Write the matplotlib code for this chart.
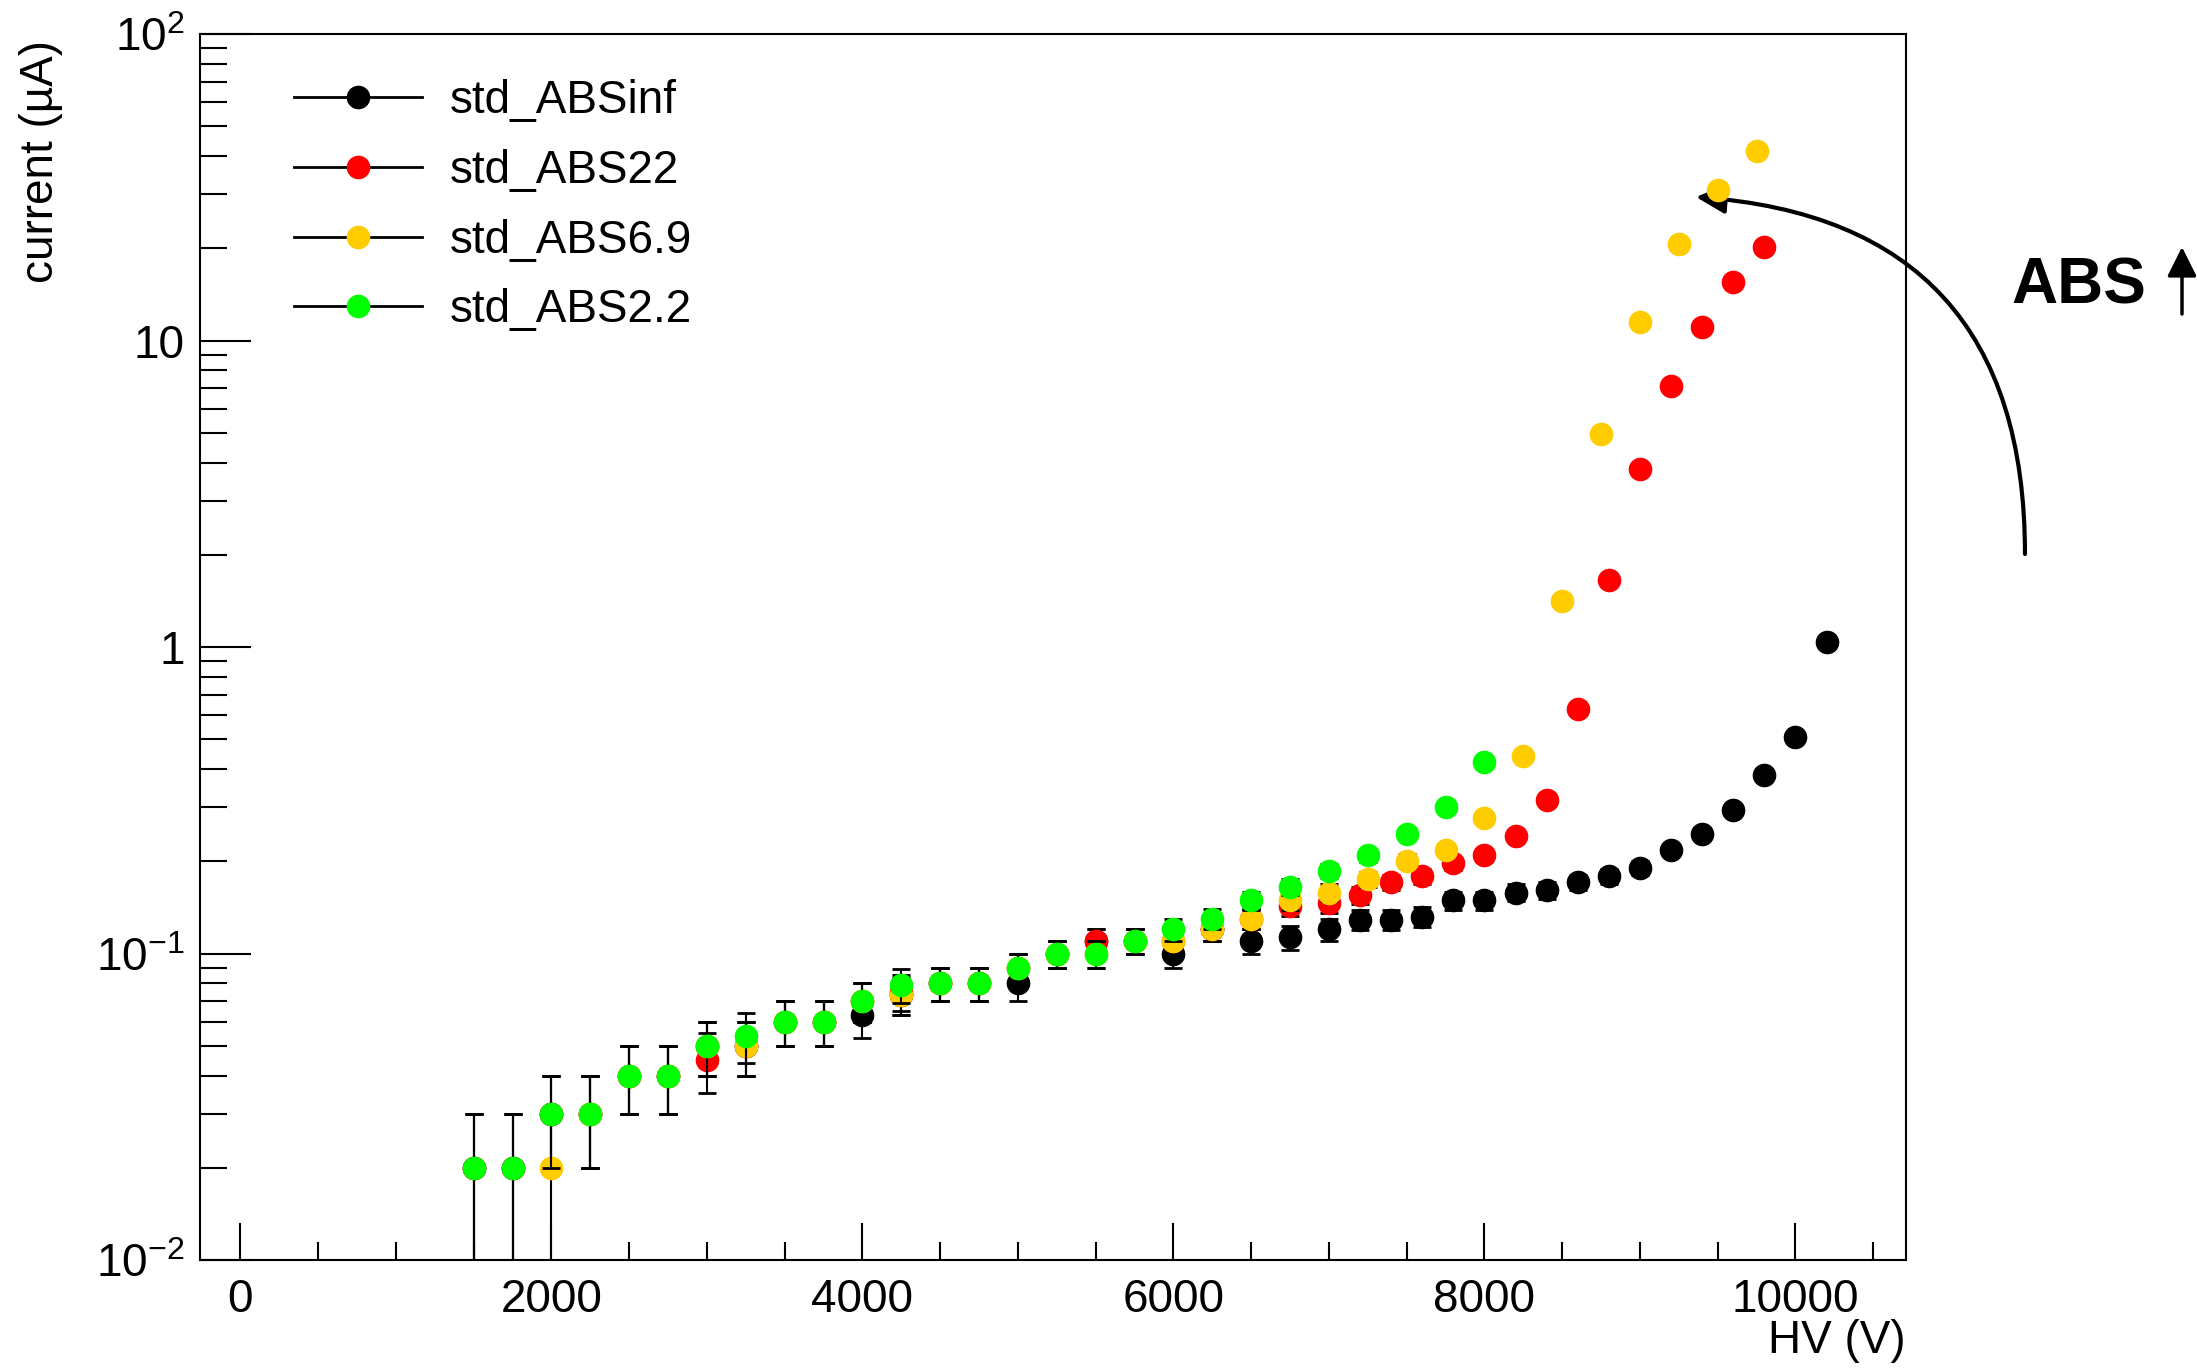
import numpy as np
import matplotlib
matplotlib.use('Agg')
import matplotlib.pyplot as plt
from matplotlib.lines import Line2D
from matplotlib.ticker import FixedLocator, FixedFormatter, MultipleLocator, LogLocator, NullFormatter

plt.rcParams['font.family'] = ['Liberation Sans', 'DejaVu Sans']
plt.rcParams['mathtext.fontset'] = 'custom'
plt.rcParams['mathtext.rm'] = 'Liberation Sans'
plt.rcParams['mathtext.it'] = 'Liberation Sans:italic'
plt.rcParams['mathtext.bf'] = 'Liberation Sans:bold'

# HV (V) / current (uA)
hv_inf = [1500, 1750, 2000, 2250, 2500, 2750, 3000, 3250, 3500, 3750, 4000, 4250, 4500,
          4750, 5000, 5250, 5500, 5750, 6000, 6250, 6500, 6750, 7000, 7200, 7400, 7600,
          7800, 8000, 8200, 8400, 8600, 8800, 9000, 9200, 9400, 9600, 9800, 10000, 10200]
i_inf = [0.02, 0.02, 0.03, 0.03, 0.04, 0.04, 0.05, 0.05, 0.06, 0.06, 0.063, 0.073, 0.08,
         0.08, 0.08, 0.1, 0.11, 0.11, 0.1, 0.12, 0.11, 0.113, 0.12, 0.129, 0.129, 0.132,
         0.149, 0.149, 0.158, 0.161, 0.171, 0.179, 0.19, 0.218, 0.246, 0.294, 0.381, 0.507, 1.035]

hv_22 = [1500, 1750, 2000, 2250, 2500, 2750, 3000, 3250, 3500, 3750, 4000, 4250, 4500,
         4750, 5000, 5250, 5500, 5750, 6000, 6250, 6500, 6750, 7000, 7200, 7400, 7600,
         7800, 8000, 8200, 8400, 8600, 8800, 9000, 9200, 9400, 9600, 9800]
i_22 = [0.02, 0.02, 0.03, 0.03, 0.04, 0.04, 0.045, 0.05, 0.06, 0.06, 0.07, 0.075, 0.08,
        0.08, 0.09, 0.1, 0.11, 0.11, 0.11, 0.12, 0.13, 0.143, 0.146, 0.155, 0.171, 0.179,
        0.197, 0.21, 0.241, 0.318, 0.629, 1.65, 3.82, 7.1, 11.06, 15.5, 20.2]

hv_69 = [2000, 2250, 2500, 2750, 3000, 3250, 3500, 3750, 4000, 4250, 4500, 4750, 5000,
         5250, 5500, 5750, 6000, 6250, 6500, 6750, 7000, 7250, 7500, 7750, 8000, 8250,
         8500, 8750, 9000, 9250, 9500, 9750]
i_69 = [0.02, 0.03, 0.04, 0.04, 0.05, 0.05, 0.06, 0.06, 0.07, 0.073, 0.08, 0.08, 0.09,
        0.1, 0.1, 0.11, 0.11, 0.12, 0.13, 0.149, 0.158, 0.175, 0.201, 0.218, 0.277, 0.44,
        1.41, 4.97, 11.5, 20.6, 30.9, 41.5]

hv_22b = [1500, 1750, 2000, 2250, 2500, 2750, 3000, 3250, 3500, 3750, 4000, 4250, 4500,
          4750, 5000, 5250, 5500, 5750, 6000, 6250, 6500, 6750, 7000, 7250, 7500, 7750, 8000]
i_22b = [0.02, 0.02, 0.03, 0.03, 0.04, 0.04, 0.05, 0.054, 0.06, 0.06, 0.07, 0.079, 0.08,
         0.08, 0.09, 0.1, 0.1, 0.11, 0.12, 0.13, 0.149, 0.165, 0.186, 0.209, 0.246, 0.30, 0.423]

err = 0.01  # uA, same for every point

names = ['std_ABSinf', 'std_ABS22', 'std_ABS6.9', 'std_ABS2.2']
colors = ['#000000', '#FF0000', '#FFCC00', '#00FF00']
series = [(hv_inf, i_inf), (hv_22, i_22), (hv_69, i_69), (hv_22b, i_22b)]

fig = plt.figure(figsize=(21.97, 13.69), dpi=100)
ax = fig.add_axes([0.0910, 0.0796, 0.7765, 0.8955])

for k, ((x, y), c) in enumerate(zip(series, colors)):
    z = 2 + k
    ax.errorbar(x, y, yerr=[err] * len(y), fmt='none', ecolor='black',
                elinewidth=1.5, capsize=6.5, capthick=2, zorder=z)
    ax.plot(x, y, 'o', color=c, mec=c, ms=16, zorder=z + 0.5)

ax.set_yscale('log')
ax.set_xlim(-260, 10710)
ax.set_ylim(0.01, 100)

ax.xaxis.set_major_locator(MultipleLocator(2000))
ax.xaxis.set_minor_locator(MultipleLocator(500))
ax.yaxis.set_major_locator(FixedLocator([0.01, 0.1, 1, 10, 100]))
ax.yaxis.set_major_formatter(FixedFormatter([r'$\mathregular{10^{-2}}$', r'$\mathregular{10^{-1}}$',
                                             '1', '10', r'$\mathregular{10^{2}}$']))
ax.yaxis.set_minor_locator(LogLocator(base=10, subs=np.arange(2, 10)))
ax.yaxis.set_minor_formatter(NullFormatter())

ax.tick_params(axis='x', which='major', direction='in', length=26.6, width=1.5, labelsize=33, pad=13, top=False)
ax.tick_params(axis='x', which='minor', direction='in', length=13, width=1.5, top=False)
ax.tick_params(axis='y', which='major', direction='in', length=36.7, width=1.5, labelsize=33, pad=11, right=False)
ax.tick_params(axis='y', which='minor', direction='in', length=19.4, width=1.5, right=False)
for s in ax.spines.values():
    s.set_linewidth(1.5)

ax.set_xlabel('HV (V)', fontsize=33, loc='right')
ax.xaxis.set_label_coords(1.0, -0.048)
ax.set_ylabel('current (µA)', fontsize=33, loc='top')
ax.yaxis.set_label_coords(-0.080, 0.995)

handles = [Line2D([], [], color='black', lw=2, marker='o', ms=16, mfc=c, mec=c) for c in colors]
ax.legend(handles, names, loc='upper left', bbox_to_anchor=(0.0551, 0.963), frameon=False,
          fontsize=33, handlelength=2.8, handletextpad=0.6, labelspacing=0.56,
          borderpad=0, borderaxespad=0)

# curved arrow and "ABS" note
ax.annotate('', xy=(1696, 1172), xycoords='figure pixels', xytext=(2025, 815),
            textcoords='figure pixels', annotation_clip=False,
            arrowprops=dict(arrowstyle='-|>', connectionstyle='angle3,angleA=90,angleB=-4',
                            lw=3, color='black', mutation_scale=45, shrinkA=0, shrinkB=0))
fig.text(2011 / 2197, (1369 - 303) / 1369, 'ABS', fontsize=46, fontweight='bold',
         ha='left', va='baseline')
ax.annotate('', xy=(2182, 1122), xycoords='figure pixels', xytext=(2182, 1055),
            textcoords='figure pixels', annotation_clip=False,
            arrowprops=dict(arrowstyle='-|>', lw=2.5, color='black', mutation_scale=45,
                            shrinkA=0, shrinkB=0))

fig.savefig('out.png', dpi=100)
